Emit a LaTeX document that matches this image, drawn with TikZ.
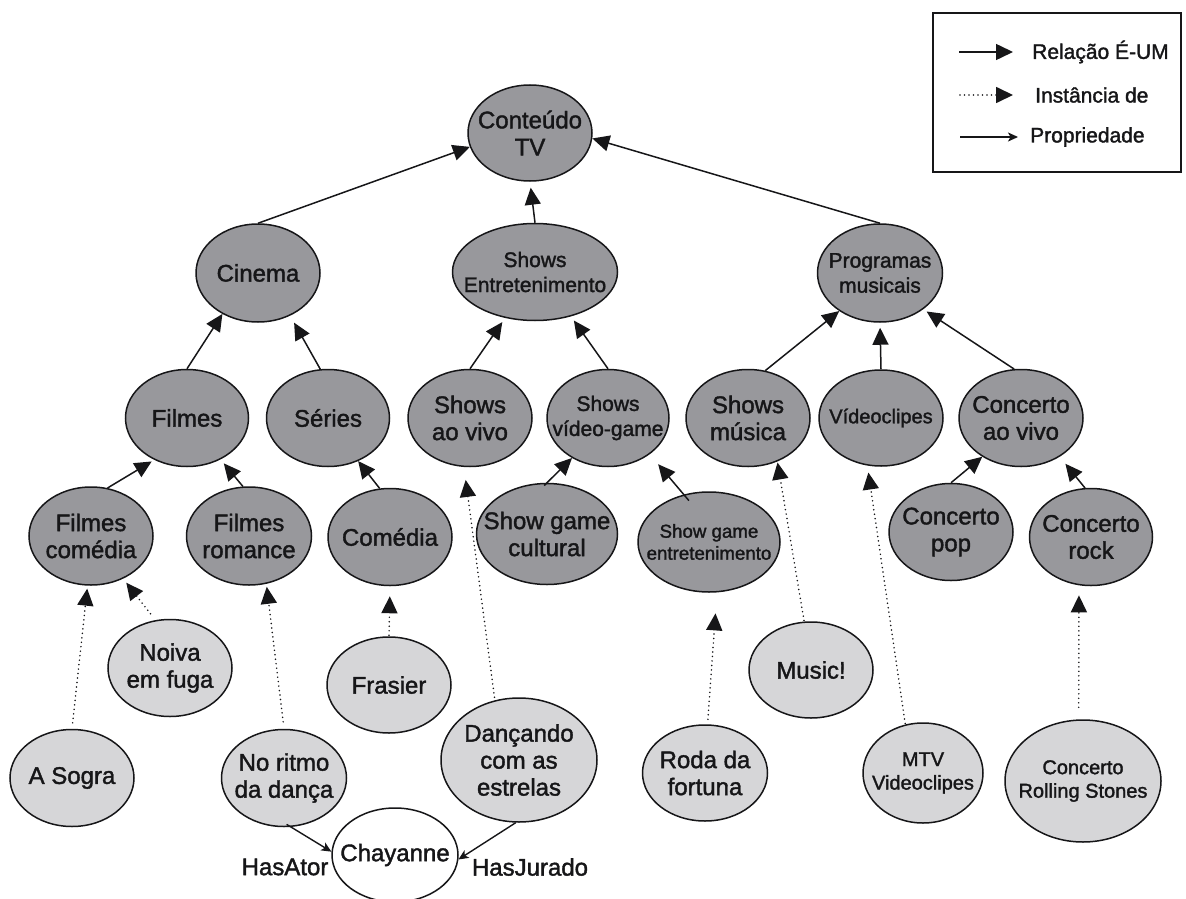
\documentclass[tikz,border=0pt]{standalone}
\usepackage{fontspec}
\setmainfont{Liberation Sans}[FakeBold=1.6]
\usetikzlibrary{shapes.geometric,arrows.meta}
\definecolor{ink}{RGB}{22,22,24}
\definecolor{darkfill}{RGB}{152,152,156}
\definecolor{lightfill}{RGB}{214,214,216}
\tikzset{
  shell/.style={ellipse, draw=ink, line width=1.5pt, inner sep=0pt},
  dk/.style 2 args={shell, fill=darkfill, minimum width=#1, minimum height=#2},
  lt/.style 2 args={shell, fill=lightfill, minimum width=#1, minimum height=#2},
  wt/.style 2 args={shell, fill=white, minimum width=#1, minimum height=#2},
  lab/.style={align=center, inner sep=0pt, text=ink},
  tA/.style={font=\fontsize{24}{27}\selectfont},
  tB/.style={font=\fontsize{21}{25}\selectfont},
  tC/.style={font=\fontsize{20}{23.5}\selectfont},
  tD/.style={font=\fontsize{18.7}{22}\selectfont},
  isa/.style={draw=ink, line width=1.5pt, -{Triangle[length=17pt,width=16pt]}},
  inst/.style={draw=ink, line width=1.7pt, line cap=round, dash pattern=on 0pt off 4.5pt,
               -{Triangle[length=17pt,width=16pt]}},
  prop/.style={draw=ink, line width=1.4pt, -{Stealth[length=10pt,width=9pt,inset=2.5pt]}}
}
\begin{document}
\begin{tikzpicture}[x=1pt,y=-1pt]
\useasboundingbox (0,0) rectangle (1186,899);

% class hierarchy (dark nodes)
\node[dk={124pt}{96pt}, label={[lab,tA]center:{Conteúdo\\TV}}] (tv) at (530,133) {};
\node[dk={124pt}{98pt}, label={[lab,tA]center:Cinema}] (cinema) at (258,273) {};
\node[dk={165pt}{97pt}, label={[lab,tB]center:{Shows\\Entretenimento}}] (showsent) at (535,272) {};
\node[dk={125pt}{98pt}, label={[lab,tB]center:{Programas\\musicais}}] (prog) at (880,273) {};

\node[dk={123pt}{97pt}, label={[lab,tA]center:Filmes}] (filmes) at (187,418) {};
\node[dk={123pt}{97pt}, label={[lab,tA]center:Séries}] (series) at (328,418) {};
\node[dk={124pt}{97pt}, label={[lab,tA]center:{Shows\\ao vivo}}] (aovivo) at (470,418) {};
\node[dk={122pt}{97pt}, label={[lab,tB]center:{Shows\\vídeo-game}}] (videogame) at (608,418) {};
\node[dk={124pt}{97pt}, label={[lab,tA]center:{Shows\\música}}] (musica) at (748,418) {};
\node[dk={124pt}{96pt}, label={[lab,tC]center:Vídeoclipes}] (videoclipes) at (881,418) {};
\node[dk={124pt}{97pt}, label={[lab,tA]center:{Concerto\\ao vivo}}] (cav) at (1021,418) {};

\node[dk={124pt}{98pt}, label={[lab,tA]center:{Filmes\\comédia}}] (fcom) at (91,536) {};
\node[dk={125pt}{98pt}, label={[lab,tA]center:{Filmes\\romance}}] (fromance) at (249,536) {};
\node[dk={124pt}{97pt}, label={[lab,tA]center:Comédia}] (comedia) at (390,537) {};
\node[dk={141pt}{101pt}, label={[lab,tA]center:{Show game\\cultural}}] (sgcultural) at (547,534) {};
\node[dk={142pt}{100pt}, label={[lab,tD]center:{Show game\\entretenimento}}] (sgentret) at (709,542) {};
\node[dk={124pt}{97pt}, label={[lab,tA]center:{Concerto\\pop}}] (cpop) at (951,532) {};
\node[dk={123pt}{97pt}, label={[lab,tA]center:{Concerto\\rock}}] (crock) at (1091,537) {};

% instances (light nodes)
\node[lt={124pt}{97pt}, label={[lab,tA]center:{Noiva\\em fuga}}] (noiva) at (170,668) {};
\node[lt={124pt}{96pt}, label={[lab,tA]center:Frasier}] (frasier) at (389,685) {};
\node[lt={124pt}{97pt}, label={[lab,tA]center:{A Sogra}}] (sogra) at (72,778) {};
\node[lt={125pt}{97pt}, label={[lab,tA]center:{No ritmo\\da dança}}] (ritmo) at (284,778) {};
\node[lt={156pt}{124pt}, label={[lab,tA]center:{Dançando\\com as\\estrelas}}] (dancando) at (519,760) {};
\node[lt={125pt}{96pt}, label={[lab,tA]center:{Roda da\\fortuna}}] (roda) at (705,773) {};
\node[lt={124pt}{96pt}, label={[lab,tA]center:Music!}] (music) at (811,670) {};
\node[lt={120pt}{100pt}, label={[lab,tC]center:{MTV\\Videoclipes}}] (mtv) at (923,773) {};
\node[lt={156pt}{122pt}, label={[lab,tC]center:{Concerto\\Rolling Stones}}] (crs) at (1083,781) {};

% property value
\node[wt={126pt}{94pt}, label={[lab,tA]center:Chayanne}] (chay) at (395,855) {};
\node[lab,tA] (hasator) at (285,867) {HasAtor};
\node[lab,tA] (hasjurado) at (530,867) {HasJurado};

% is-a relations
\draw[isa] (cinema.north) -- (tv.193);
\draw[isa, shorten >=6pt] (showsent.north) -- (tv.south);
\draw[isa] (prog.north) -- (tv.-5);
\draw[isa] (filmes.north) -- (cinema.229);
\draw[isa, shorten >=8pt] (series.99) -- (cinema.307);
\draw[isa, shorten >=5pt] (aovivo.north) -- (showsent.237);
\draw[isa, shorten >=5pt] (videogame.north) -- (showsent.309);
\draw[isa] (musica.70) -- (prog.223);
\draw[isa, shorten >=5pt] (videoclipes.north) -- (prog.south);
\draw[isa, shorten >=4pt] (cav.98) -- (prog.320);
\draw[isa, shorten >=3pt] (fcom.71) -- (filmes.232);
\draw[isa, shorten >=5pt] (fromance.97) -- (filmes.309);
\draw[isa] (comedia.102) -- (series.305);
\draw[isa, shorten <=-4pt] (sgcultural.north) -- (videogame.228);
\draw[isa, shorten <=-8pt, shorten >=13pt] (sgentret.118) -- (videogame.319);
\draw[isa] (cpop.north) -- (cav.225);
\draw[isa, shorten >=9pt] (crock.97) -- (cav.315);

% instance-of relations
\draw[inst, shorten <=6pt, shorten >=3pt] (sogra.north) -- (fcom.266);
\draw[inst, shorten <=8pt, shorten >=5pt] (noiva.107) -- (fcom.307);
\draw[inst, shorten <=7pt, shorten >=3pt] (ritmo.north) -- (fromance.290);
\draw[inst, shorten <=1pt, shorten >=10pt] (frasier.north) -- (comedia.south);
\draw[inst, shorten <=3pt, shorten >=13pt] (dancando.112) -- (aovivo.263);
\draw[inst, shorten <=5pt, shorten >=21pt] (roda.87) -- (sgentret.279);
\draw[inst, shorten <=1pt, shorten >=1pt] (music.98) -- (musica.304);
\draw[inst, shorten <=1pt, shorten >=7pt] (mtv.110) -- (videoclipes.254);
\draw[inst, shorten <=12pt, shorten >=10pt] (crs.94) -- (crock.256);

% properties
\draw[prop, shorten <=-5pt] (ritmo.278) -- (chay.177);
\draw[prop] (dancando.267) -- (chay.-4);

% legend
\node[draw=ink, line width=1.5pt, minimum width=248pt, minimum height=159pt, inner sep=0pt]
  (legend) at (1057,92.5) {};
\coordinate (l1a) at (959,52);  \coordinate (l1b) at (1013,52);
\coordinate (l2a) at (960,95);  \coordinate (l2b) at (1013,95);
\coordinate (l3a) at (960,137); \coordinate (l3b) at (1018,137);
\draw[isa] (l1a) -- (l1b);
\draw[inst] (l2a) -- (l2b);
\draw[prop] (l3a) -- (l3b);
\node[lab, tB, anchor=west] (lt1) at (1032,52) {Relação É-UM};
\node[lab, tB, anchor=west] (lt2) at (1035,95) {Instância de};
\node[lab, tB, anchor=west] (lt3) at (1030,137) {Propriedade};
\end{tikzpicture}
\end{document}
